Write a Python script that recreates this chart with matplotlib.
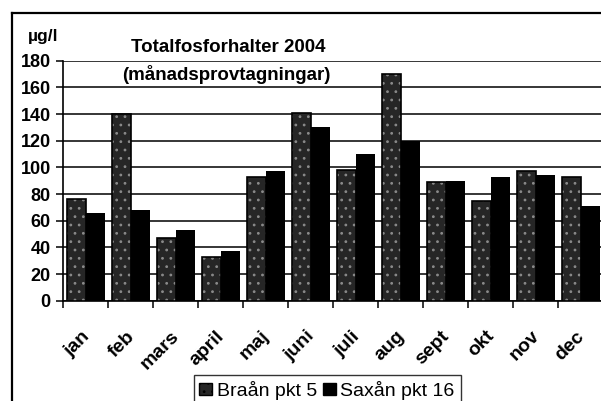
import matplotlib
matplotlib.use("Agg")
import matplotlib.pyplot as plt
from matplotlib.lines import Line2D
from matplotlib.patches import Patch
import numpy as np

months = ["jan", "feb", "mars", "april", "maj", "juni", "juli", "aug",
          "sept", "okt", "nov", "dec"]
braan = [76, 140, 47, 33, 93, 141, 98, 170, 89, 75, 97, 93]
saxan = [66, 68, 53, 37, 97, 130, 110, 120, 90, 93, 94, 71]
series_names = ["Braån pkt 5", "Saxån pkt 16"]
title_lines = ["Totalfosforhalter 2004", "(månadsprovtagningar)"]
unit_label = "µg/l"
yticks = [0, 20, 40, 60, 80, 100, 120, 140, 160, 180]

plt.rcParams['font.family'] = ['Liberation Sans', 'DejaVu Sans']
plt.rcParams['hatch.linewidth'] = 0.8

W, H = 601, 401
fig = plt.figure(figsize=(W / 100, H / 100), dpi=100)
fig.patch.set_facecolor("white")

left_px, right_px, top_px, bot_px = 63.3, 603.3, 60.7, 300.7
ax = fig.add_axes([left_px / W, 1 - bot_px / H,
                   (right_px - left_px) / W, (bot_px - top_px) / H])

x = np.arange(len(months))
w = 0.42
braan_face = "#262626"
braan_hatch = "#8a8a8a"
ax.bar(x - w / 2, braan, width=w, facecolor=braan_face, edgecolor=braan_hatch,
       hatch="..", linewidth=0, zorder=3)
ax.bar(x - w / 2, braan, width=w, fill=False, edgecolor="black",
       linewidth=1.2, zorder=4)
ax.bar(x + w / 2, saxan, width=w, facecolor="black", edgecolor="black",
       linewidth=0, zorder=3)

ax.set_xlim(-0.5, len(months) - 0.5)
ax.set_ylim(0, 180)
ax.set_yticks(yticks)
ax.set_yticklabels([str(v) for v in yticks], fontsize=13, fontweight="bold")
ax.yaxis.grid(True, color="black", linewidth=1.1, zorder=1)
ax.set_axisbelow(True)

ax.set_xticks(np.arange(len(months) + 1) - 0.5)
ax.set_xticklabels([])
ax.tick_params(axis="x", direction="out", length=5, width=1.1, color="black")
ax.tick_params(axis="y", direction="out", length=5, width=1.1, color="black", pad=4)

for i, m in enumerate(months):
    ax.annotate(m, xy=(i, 0), xycoords=("data", "axes fraction"),
                xytext=(-5, -27), textcoords="offset pixels",
                rotation=45, rotation_mode="anchor", ha="right", va="top",
                fontsize=14, fontweight="bold", annotation_clip=False)

for side in ["top", "right"]:
    ax.spines[side].set_visible(False)
for side in ["left", "bottom"]:
    ax.spines[side].set_linewidth(1.2)
    ax.spines[side].set_color("black")

# unit label
fig.text(28 / W, 1 - 36 / H, unit_label, fontsize=12.5, fontweight="bold",
         ha="left", va="center")
# title
fig.text(228 / W, 1 - 48 / H, title_lines[0], fontsize=13.5, fontweight="bold",
         ha="center", va="center")
fig.text(226 / W, 1 - 75 / H, title_lines[1], fontsize=13.5, fontweight="bold",
         ha="center", va="center")

# legend
handles = [Patch(facecolor=braan_face, edgecolor="black", hatch="..", linewidth=1.0),
           Patch(facecolor="black", edgecolor="black")]
leg = fig.legend(handles, series_names, loc="upper center",
                 bbox_to_anchor=(327 / W, 1 - 375 / H), ncol=2, fontsize=14,
                 frameon=True, fancybox=False, handlelength=0.65,
                 handleheight=0.65, handletextpad=0.25, columnspacing=0.3,
                 borderpad=0.3, borderaxespad=0)
leg.get_frame().set_edgecolor("black")
leg.get_frame().set_linewidth(1.0)

# outer chart border (left and top visible)
fig.add_artist(Line2D([12 / W, 12 / W], [0, 1 - 13 / H], transform=fig.transFigure,
                      color="black", linewidth=1.6))
fig.add_artist(Line2D([12 / W, 1], [1 - 13 / H, 1 - 13 / H], transform=fig.transFigure,
                      color="black", linewidth=1.6))

fig.savefig("out.png", dpi=100)
